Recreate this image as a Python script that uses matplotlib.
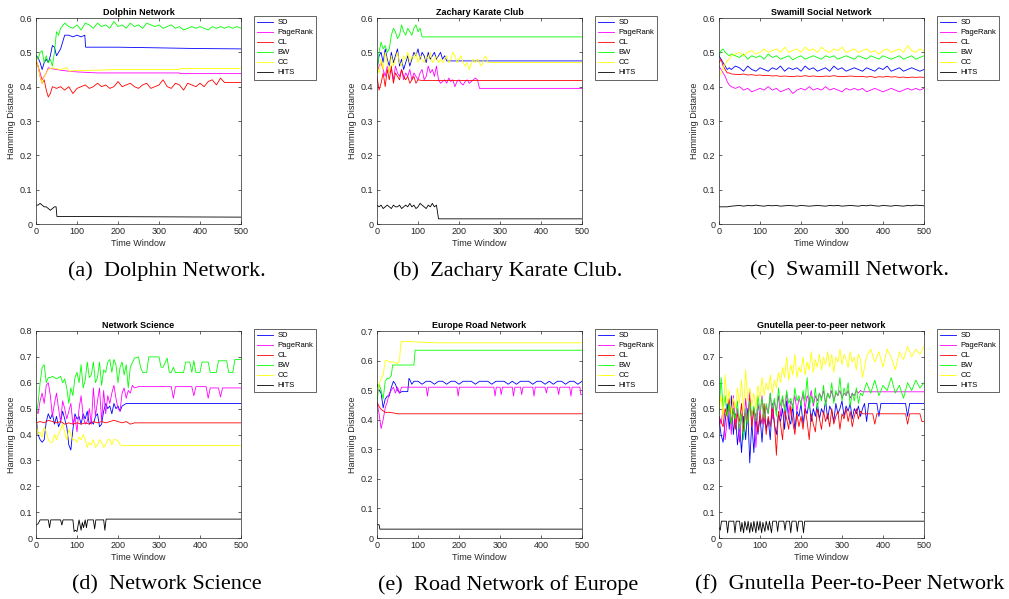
import numpy as np
from matplotlib import pyplot as plt
from matplotlib.ticker import FormatStrFormatter

plt.rcParams['font.family'] = ['Liberation Sans', 'DejaVu Sans']

###############series names / colours###################
names = ['SD', 'PageRank', 'CL', 'BW', 'CC', 'HITS']
colors = ['#0000ff', '#ff00ff', '#ff0000', '#00ff00', '#ffff00', '#000000']

###############(a) Dolphin Network###################
a_sd_x = [0, 5, 10, 15, 20, 25, 30, 35, 40, 45, 50, 55, 60, 65, 70, 80, 90, 100, 110, 119, 121, 200, 300, 400, 500]
a_sd_y = [0.49, 0.485, 0.47, 0.45, 0.47, 0.48, 0.47, 0.49, 0.52, 0.515, 0.49, 0.50, 0.51, 0.53, 0.55, 0.55, 0.545,
          0.55, 0.545, 0.55, 0.515, 0.515, 0.513, 0.511, 0.51]
a_pr_x = [0, 5, 10, 15, 20, 25, 30, 40, 50, 60, 80, 100, 150, 200, 350, 351, 500]
a_pr_y = [0.47, 0.46, 0.44, 0.42, 0.43, 0.44, 0.455, 0.452, 0.45, 0.448, 0.445, 0.443, 0.44, 0.44, 0.44, 0.438, 0.438]
a_cl_x = [0, 5, 10, 15, 20, 25, 30, 35, 40] + list(range(50, 451, 10)) + [460, 500]
a_cl_y = [0.48, 0.46, 0.43, 0.41, 0.42, 0.39, 0.37, 0.38, 0.40,
          0.395, 0.40, 0.39, 0.40, 0.38, 0.395, 0.40, 0.405, 0.395, 0.40,
          0.41, 0.40, 0.405, 0.395, 0.40, 0.415, 0.40, 0.405, 0.41, 0.40,
          0.395, 0.405, 0.41, 0.395, 0.40, 0.405, 0.42, 0.40, 0.395, 0.41,
          0.405, 0.39, 0.41, 0.405, 0.40, 0.41, 0.40, 0.415, 0.42, 0.405,
          0.425, 0.412, 0.412]
a_bw_x = [0, 5, 10, 15, 20, 25, 30, 35, 40, 45, 50, 55, 60] + list(range(70, 501, 10))
a_bw_y = [0.49, 0.48, 0.50, 0.505, 0.47, 0.49, 0.47, 0.48, 0.46, 0.50, 0.56, 0.55, 0.57,
          0.585, 0.575, 0.57, 0.58, 0.565, 0.585, 0.58, 0.57, 0.585, 0.575,
          0.58, 0.57, 0.59, 0.575, 0.58, 0.57, 0.585, 0.575, 0.58, 0.57,
          0.585, 0.58, 0.575, 0.58, 0.57, 0.575, 0.58, 0.57, 0.575, 0.565,
          0.57, 0.575, 0.57, 0.575, 0.57, 0.565, 0.575, 0.57, 0.575, 0.57,
          0.575, 0.57, 0.575, 0.57]
a_cc_x = [0, 5, 10, 15, 20, 25, 30, 40, 50, 60, 75, 80, 100, 150, 200, 350, 351, 500]
a_cc_y = [0.48, 0.46, 0.43, 0.41, 0.43, 0.44, 0.45, 0.455, 0.452, 0.45, 0.455, 0.445, 0.447, 0.448, 0.45, 0.45, 0.453, 0.453]
a_hits_x = [0, 5, 10, 15, 20, 25, 30, 35, 40, 45, 49, 51, 500]
a_hits_y = [0.055, 0.055, 0.06, 0.055, 0.05, 0.05, 0.045, 0.04, 0.045, 0.05, 0.05, 0.022, 0.02]

###############(b) Zachary Karate Club###################
b_sd_x = list(range(0, 166, 5)) + [170, 500]
b_sd_y = [0.45, 0.49, 0.50, 0.47, 0.51, 0.48, 0.46, 0.50, 0.47, 0.49,
          0.51, 0.46, 0.48, 0.45, 0.47, 0.49, 0.46, 0.48, 0.50, 0.49,
          0.51, 0.48, 0.50, 0.49, 0.47, 0.50, 0.48, 0.49, 0.50, 0.48,
          0.49, 0.50, 0.48, 0.49, 0.475, 0.475]
b_pr_x = list(range(0, 246, 5)) + [250, 500]
b_pr_y = [0.44, 0.46, 0.47, 0.45, 0.43, 0.46, 0.44, 0.45, 0.42, 0.46,
          0.44, 0.43, 0.45, 0.42, 0.44, 0.43, 0.45, 0.42, 0.44, 0.43,
          0.42, 0.44, 0.45, 0.42, 0.43, 0.46, 0.44, 0.45, 0.43, 0.46,
          0.42, 0.41, 0.415, 0.42, 0.41, 0.425, 0.415, 0.42, 0.40, 0.415,
          0.42, 0.41, 0.405, 0.415, 0.42, 0.41, 0.415, 0.42, 0.425, 0.42,
          0.395, 0.395]
b_cl_x = list(range(0, 101, 5)) + [110, 500]
b_cl_y = [0.43, 0.39, 0.41, 0.44, 0.40, 0.45, 0.42, 0.46, 0.41, 0.44,
          0.43, 0.42, 0.45, 0.43, 0.42, 0.43, 0.41, 0.42, 0.43, 0.41,
          0.42, 0.418, 0.418]
b_bw_x = list(range(0, 106, 5)) + [110, 500]
b_bw_y = [0.44, 0.50, 0.53, 0.51, 0.52, 0.50, 0.51, 0.55, 0.57, 0.56,
          0.54, 0.55, 0.58, 0.56, 0.55, 0.57, 0.56, 0.55, 0.57, 0.58,
          0.56, 0.57, 0.545, 0.545]
b_cc_x = list(range(0, 266, 5)) + [270, 500]
b_cc_y = [0.46, 0.44, 0.48, 0.45, 0.50, 0.47, 0.44, 0.49, 0.46, 0.48,
          0.50, 0.47, 0.46, 0.49, 0.48, 0.50, 0.47, 0.49, 0.48, 0.50,
          0.47, 0.49, 0.48, 0.47, 0.49, 0.48, 0.50, 0.47, 0.48, 0.49,
          0.47, 0.48, 0.47, 0.48, 0.49, 0.47, 0.48, 0.50, 0.49, 0.47,
          0.48, 0.49, 0.47, 0.46, 0.47, 0.45, 0.47, 0.48, 0.47, 0.48,
          0.47, 0.46, 0.48, 0.49, 0.47, 0.47]
b_hits_x = list(range(0, 146, 5)) + [150, 500]
b_hits_y = [0.055, 0.05, 0.055, 0.045, 0.05, 0.055, 0.05, 0.045, 0.055, 0.05,
            0.05, 0.055, 0.045, 0.05, 0.055, 0.05, 0.06, 0.05, 0.055, 0.045,
            0.05, 0.06, 0.055, 0.05, 0.045, 0.055, 0.05, 0.06, 0.05, 0.055,
            0.015, 0.015]

###############(c) Swamill Social Network###################
c_x = [0, 5, 10, 15, 20, 25, 30] + list(range(40, 501, 10))
c_sd_y = [0.49, 0.48, 0.47, 0.46, 0.45, 0.455, 0.45,
          0.46, 0.455, 0.445, 0.46, 0.45, 0.445, 0.455, 0.45, 0.445, 0.455,
          0.45, 0.46, 0.445, 0.455, 0.45, 0.455, 0.445, 0.46, 0.45, 0.455,
          0.445, 0.45, 0.455, 0.445, 0.46, 0.45, 0.455, 0.445, 0.45, 0.455,
          0.45, 0.445, 0.455, 0.45, 0.445, 0.455, 0.45, 0.46, 0.445, 0.45,
          0.455, 0.445, 0.45, 0.455, 0.45, 0.445, 0.45]
c_pr_y = [0.46, 0.45, 0.44, 0.43, 0.415, 0.405, 0.40,
          0.395, 0.40, 0.39, 0.395, 0.385, 0.39, 0.395, 0.39, 0.40, 0.39,
          0.395, 0.385, 0.39, 0.395, 0.38, 0.39, 0.395, 0.39, 0.40, 0.39,
          0.395, 0.39, 0.40, 0.39, 0.395, 0.39, 0.385, 0.395, 0.39, 0.395,
          0.39, 0.395, 0.385, 0.39, 0.395, 0.39, 0.385, 0.39, 0.395, 0.39,
          0.385, 0.39, 0.395, 0.39, 0.395, 0.39, 0.395]
c_cl_y = [0.47, 0.48, 0.46, 0.45, 0.44, 0.44, 0.437,
          0.436, 0.435, 0.437, 0.434, 0.435, 0.433, 0.434, 0.432, 0.433, 0.431,
          0.432, 0.43, 0.431, 0.43, 0.429, 0.431, 0.43, 0.432, 0.43, 0.431,
          0.43, 0.429, 0.431, 0.43, 0.432, 0.43, 0.429, 0.43, 0.431, 0.43,
          0.429, 0.43, 0.428, 0.43, 0.427, 0.429, 0.428, 0.43, 0.428, 0.429,
          0.427, 0.428, 0.426, 0.428, 0.427, 0.428, 0.427]
c_bw_y = [0.49, 0.505, 0.51, 0.50, 0.495, 0.49, 0.495,
          0.49, 0.485, 0.495, 0.48, 0.49, 0.485, 0.49, 0.48, 0.495, 0.485,
          0.49, 0.48, 0.485, 0.49, 0.478, 0.485, 0.49, 0.48, 0.485, 0.49,
          0.485, 0.48, 0.49, 0.485, 0.49, 0.48, 0.485, 0.49, 0.485, 0.48,
          0.49, 0.485, 0.48, 0.49, 0.485, 0.48, 0.49, 0.485, 0.48, 0.485,
          0.49, 0.48, 0.485, 0.49, 0.48, 0.485, 0.49]
c_cc_y = [0.43, 0.44, 0.455, 0.465, 0.475, 0.48, 0.49,
          0.495, 0.50, 0.49, 0.50, 0.505, 0.495, 0.50, 0.51, 0.50, 0.505,
          0.51, 0.50, 0.515, 0.50, 0.505, 0.51, 0.50, 0.515, 0.505, 0.51,
          0.50, 0.515, 0.505, 0.50, 0.51, 0.505, 0.515, 0.50, 0.505, 0.51,
          0.50, 0.505, 0.51, 0.50, 0.505, 0.495, 0.505, 0.51, 0.50, 0.505,
          0.51, 0.50, 0.52, 0.505, 0.50, 0.51, 0.505]
c_hits_y = [0.05, 0.05, 0.05, 0.05, 0.05, 0.051, 0.052,
            0.053, 0.054, 0.052, 0.054, 0.053, 0.055, 0.053, 0.052, 0.054, 0.053,
            0.054, 0.052, 0.053, 0.054, 0.053, 0.052, 0.054, 0.053, 0.052, 0.053,
            0.054, 0.053, 0.052, 0.054, 0.053, 0.054, 0.052, 0.053, 0.054, 0.053,
            0.052, 0.054, 0.053, 0.055, 0.053, 0.052, 0.054, 0.053, 0.052, 0.054,
            0.053, 0.052, 0.054, 0.053, 0.055, 0.054, 0.053]

###############(d) Network Science###################
d_sd_x = list(range(0, 211, 5)) + [220, 500]
d_sd_y = [0.47, 0.40, 0.38, 0.37, 0.38, 0.45, 0.48, 0.46, 0.48, 0.44,
          0.47, 0.43, 0.45, 0.49, 0.46, 0.43, 0.36, 0.34, 0.42, 0.48,
          0.46, 0.47, 0.44, 0.48, 0.46, 0.49, 0.44, 0.45, 0.44, 0.47,
          0.48, 0.43, 0.44, 0.49, 0.52, 0.50, 0.51, 0.48, 0.52, 0.50,
          0.51, 0.49, 0.51, 0.52, 0.52]
d_pr_x = list(range(0, 241, 5)) + [250, 330, 335, 340, 380, 385, 390, 415, 420, 425, 445, 450, 455, 500]
d_pr_y = [0.50, 0.48, 0.53, 0.56, 0.52, 0.59, 0.60, 0.55, 0.47, 0.52,
          0.56, 0.50, 0.45, 0.53, 0.50, 0.46, 0.49, 0.52, 0.44, 0.47,
          0.41, 0.50, 0.55, 0.47, 0.44, 0.45, 0.50, 0.44, 0.58, 0.47,
          0.53, 0.58, 0.45, 0.57, 0.48, 0.55, 0.52, 0.56, 0.59, 0.54,
          0.50, 0.49, 0.56, 0.58, 0.54, 0.57, 0.56, 0.59, 0.58,
          0.585, 0.585, 0.54, 0.585, 0.585, 0.55, 0.585, 0.585, 0.54, 0.58, 0.58, 0.545, 0.58, 0.58]
d_cl_x = list(range(0, 241, 10)) + [500]
d_cl_y = [0.445, 0.45, 0.445, 0.455, 0.45, 0.445, 0.45, 0.44, 0.445, 0.44,
          0.445, 0.44, 0.445, 0.44, 0.45, 0.445, 0.45, 0.445, 0.45, 0.455,
          0.45, 0.445, 0.45, 0.44, 0.445, 0.445]
d_bw_x = list(range(0, 231, 5)) + [240, 250, 255, 260, 270, 275, 300, 305, 310, 320, 325, 330, 335, 340,
                                   360, 365, 375, 380, 385, 390, 400, 405, 420, 425, 440, 445, 465, 470,
                                   480, 485, 500]
d_bw_y = [0.47, 0.52, 0.60, 0.66, 0.67, 0.60, 0.62, 0.62, 0.625, 0.62,
          0.615, 0.62, 0.625, 0.60, 0.615, 0.58, 0.52, 0.58, 0.55, 0.62,
          0.64, 0.60, 0.67, 0.58, 0.61, 0.68, 0.62, 0.63, 0.68, 0.60,
          0.62, 0.68, 0.59, 0.65, 0.64, 0.68, 0.69, 0.64, 0.69, 0.67,
          0.60, 0.66, 0.68, 0.63, 0.67, 0.58, 0.66,
          0.695, 0.70, 0.66, 0.64, 0.64, 0.70, 0.70, 0.66, 0.66, 0.695, 0.64, 0.64, 0.66, 0.64,
          0.64, 0.68, 0.68, 0.64, 0.685, 0.64, 0.64, 0.68, 0.68, 0.64, 0.64, 0.685, 0.685, 0.64,
          0.64, 0.69, 0.69]
d_cc_x = list(range(0, 211, 5)) + [220, 500]
d_cc_y = [0.45, 0.40, 0.41, 0.39, 0.43, 0.41, 0.38, 0.37, 0.37, 0.40,
          0.38, 0.40, 0.42, 0.44, 0.41, 0.38, 0.42, 0.40, 0.38, 0.38,
          0.37, 0.39, 0.38, 0.40, 0.38, 0.35, 0.37, 0.36, 0.38, 0.35,
          0.36, 0.38, 0.37, 0.35, 0.36, 0.38, 0.38, 0.36, 0.38, 0.38,
          0.375, 0.36, 0.357, 0.357, 0.357]
d_hits_x = [0, 5, 10, 30, 33, 36, 40, 60, 63, 66, 70, 90, 93, 96, 100, 105, 110, 113, 116, 120,
            123, 126, 130, 140, 143, 146, 150, 165, 168, 171, 175, 500]
d_hits_y = [0.05, 0.055, 0.07, 0.07, 0.04, 0.07, 0.07, 0.07, 0.05, 0.07,
            0.07, 0.07, 0.025, 0.03, 0.025, 0.07, 0.03, 0.06, 0.04, 0.07,
            0.04, 0.07, 0.07, 0.07, 0.035, 0.07, 0.07, 0.07, 0.03, 0.073, 0.073, 0.073]

###############(e) Europe Road Network###################
e_sd_x = [0, 5, 10, 15, 20, 25, 30, 35, 40, 45, 50, 55, 60, 65, 70, 75, 78, 80, 85, 90] + list(range(100, 501, 10))
e_sd_y = [0.52, 0.50, 0.49, 0.44, 0.47, 0.48, 0.48, 0.51, 0.53, 0.52,
          0.50, 0.49, 0.495, 0.495, 0.495, 0.495, 0.54, 0.535, 0.52, 0.53,
          0.53, 0.52, 0.53, 0.53, 0.52, 0.53, 0.53, 0.52, 0.53, 0.53,
          0.52, 0.53, 0.53, 0.53, 0.52, 0.53, 0.53, 0.53, 0.52, 0.53,
          0.53, 0.53, 0.52, 0.53, 0.52, 0.53, 0.53, 0.53, 0.52, 0.53,
          0.53, 0.52, 0.53, 0.52, 0.53, 0.53, 0.52, 0.53, 0.53, 0.52,
          0.53]
e_pr_x = [0, 5, 10, 15, 20, 25, 30, 35, 40, 45, 50, 55, 60,
          120, 123, 126, 195, 198, 201, 285, 288, 291, 300, 303, 306, 330, 333, 336,
          350, 353, 356, 380, 383, 386, 410, 413, 416, 440, 443, 446, 470, 473, 476, 495, 497, 500]
e_pr_y = [0.46, 0.42, 0.37, 0.40, 0.44, 0.46, 0.49, 0.50, 0.51, 0.49, 0.51, 0.49, 0.51,
          0.51, 0.48, 0.51, 0.51, 0.48, 0.51, 0.51, 0.48, 0.51, 0.51, 0.485, 0.51, 0.51, 0.48, 0.51,
          0.51, 0.485, 0.51, 0.51, 0.48, 0.51, 0.51, 0.49, 0.51, 0.51, 0.485, 0.51, 0.51, 0.48, 0.51,
          0.51, 0.485, 0.485]
e_cl_x = [0, 5, 10, 15, 20, 30, 40, 50, 500]
e_cl_y = [0.46, 0.445, 0.435, 0.43, 0.425, 0.425, 0.423, 0.42, 0.42]
e_bw_x = [0, 5, 10, 15, 20, 25, 30, 35, 38, 90, 93, 500]
e_bw_y = [0.46, 0.52, 0.50, 0.47, 0.53, 0.54, 0.54, 0.55, 0.585, 0.585, 0.635, 0.635]
e_cc_x = [0, 5, 10, 15, 20, 25, 30, 40, 50, 55, 58, 60, 150, 500]
e_cc_y = [0.48, 0.52, 0.54, 0.55, 0.60, 0.60, 0.595, 0.595, 0.59, 0.60, 0.66, 0.665, 0.66, 0.66]
e_hits_x = [0, 5, 7, 500]
e_hits_y = [0.045, 0.045, 0.03, 0.03]

###############(f) Gnutella peer-to-peer network###################
f_x5 = list(range(0, 351, 5))
f_sd_x = f_x5 + [355, 360, 365, 385, 390, 395, 455, 460, 465, 500]
f_sd_y = [0.46, 0.40, 0.37, 0.45, 0.52, 0.42, 0.55, 0.40, 0.48, 0.36,
          0.44, 0.33, 0.47, 0.38, 0.50, 0.29, 0.45, 0.33, 0.48, 0.40,
          0.47, 0.37, 0.50, 0.42, 0.46, 0.38, 0.52, 0.44, 0.40, 0.48,
          0.45, 0.50, 0.42, 0.53, 0.46, 0.44, 0.51, 0.42, 0.49, 0.47,
          0.52, 0.44, 0.50, 0.48, 0.53, 0.45, 0.50, 0.47, 0.52, 0.46,
          0.50, 0.48, 0.53, 0.46, 0.51, 0.49, 0.45, 0.52, 0.48, 0.50,
          0.53, 0.47, 0.51, 0.49, 0.52, 0.46, 0.50, 0.48, 0.51, 0.47, 0.50,
          0.52, 0.45, 0.52, 0.52, 0.47, 0.52, 0.52, 0.47, 0.52, 0.52]
f_pr_x = f_x5 + [500]
f_pr_y = [0.47, 0.44, 0.50, 0.38, 0.46, 0.52, 0.40, 0.55, 0.44, 0.50,
          0.37, 0.48, 0.42, 0.54, 0.45, 0.57, 0.43, 0.50, 0.35, 0.52,
          0.47, 0.55, 0.44, 0.51, 0.48, 0.56, 0.46, 0.53, 0.49, 0.55,
          0.47, 0.54, 0.50, 0.56, 0.48, 0.53, 0.51, 0.55, 0.49, 0.54,
          0.52, 0.56, 0.50, 0.55, 0.53, 0.57, 0.51, 0.55, 0.53, 0.56,
          0.54, 0.57, 0.52, 0.56, 0.54, 0.57, 0.53, 0.56, 0.55, 0.57,
          0.54, 0.56, 0.55, 0.57, 0.54, 0.56, 0.55, 0.57, 0.56, 0.57, 0.565,
          0.565]
f_cl_x = f_x5 + [375, 380, 385, 455, 460, 465, 490, 495, 500]
f_cl_y = [0.47, 0.45, 0.43, 0.50, 0.47, 0.54, 0.44, 0.50, 0.42, 0.48,
          0.45, 0.52, 0.41, 0.49, 0.44, 0.54, 0.43, 0.50, 0.46, 0.41,
          0.48, 0.44, 0.52, 0.40, 0.47, 0.43, 0.51, 0.45, 0.32, 0.49,
          0.44, 0.38, 0.50, 0.46, 0.42, 0.51, 0.45, 0.40, 0.48, 0.43,
          0.47, 0.42, 0.50, 0.45, 0.38, 0.48, 0.44, 0.41, 0.50, 0.46,
          0.42, 0.49, 0.45, 0.48, 0.43, 0.50, 0.44, 0.47, 0.49, 0.42,
          0.48, 0.46, 0.50, 0.45, 0.49, 0.43, 0.47, 0.50, 0.46, 0.49, 0.48,
          0.48, 0.44, 0.48, 0.48, 0.44, 0.48, 0.48, 0.45, 0.45]
f_bw_x = f_x5 + list(range(360, 501, 10))
f_bw_y = [0.48, 0.62, 0.50, 0.55, 0.47, 0.52, 0.44, 0.50, 0.46, 0.53,
          0.42, 0.48, 0.38, 0.50, 0.44, 0.53, 0.47, 0.51, 0.45, 0.55,
          0.49, 0.54, 0.46, 0.52, 0.48, 0.56, 0.50, 0.54, 0.47, 0.58,
          0.51, 0.55, 0.49, 0.57, 0.52, 0.54, 0.50, 0.58, 0.53, 0.55,
          0.51, 0.57, 0.53, 0.62, 0.50, 0.55, 0.52, 0.58, 0.50, 0.56,
          0.53, 0.59, 0.51, 0.56, 0.54, 0.60, 0.52, 0.57, 0.55, 0.62,
          0.53, 0.58, 0.55, 0.60, 0.51, 0.56, 0.53, 0.58, 0.52, 0.56, 0.55,
          0.60, 0.56, 0.61, 0.55, 0.59, 0.57, 0.62, 0.56, 0.59, 0.54, 0.60, 0.57, 0.61, 0.58, 0.60]
f_cc_x = f_x5 + list(range(360, 501, 10))
f_cc_y = [0.50, 0.55, 0.46, 0.63, 0.52, 0.57, 0.48, 0.54, 0.50, 0.58,
          0.52, 0.61, 0.49, 0.65, 0.53, 0.58, 0.51, 0.56, 0.50, 0.59,
          0.54, 0.62, 0.55, 0.60, 0.57, 0.63, 0.56, 0.61, 0.58, 0.64,
          0.60, 0.66, 0.62, 0.70, 0.61, 0.67, 0.63, 0.71, 0.62, 0.66,
          0.64, 0.70, 0.63, 0.68, 0.65, 0.72, 0.64, 0.69, 0.66, 0.71,
          0.65, 0.70, 0.67, 0.72, 0.66, 0.71, 0.64, 0.70, 0.68, 0.73,
          0.67, 0.71, 0.69, 0.66, 0.72, 0.68, 0.70, 0.65, 0.71, 0.69, 0.62,
          0.70, 0.73, 0.68, 0.72, 0.66, 0.73, 0.70, 0.65, 0.72, 0.69, 0.74, 0.70, 0.73, 0.71, 0.74]
f_hits_x = [0, 3, 6, 18, 21, 24, 36, 39, 42, 50, 53, 56, 60, 63, 68, 71, 75, 78, 82, 85,
            90, 93, 97, 100, 104, 107, 112, 115, 120, 123, 128, 131, 140, 143, 146, 158, 161, 164,
            172, 175, 178, 188, 191, 194, 203, 206, 209, 500]
f_hits_y = [0.04, 0.03, 0.065, 0.065, 0.02, 0.065, 0.065, 0.02, 0.065, 0.065, 0.025, 0.06, 0.02, 0.065,
            0.03, 0.065, 0.02, 0.06, 0.025, 0.065, 0.02, 0.065, 0.03, 0.065, 0.02, 0.06, 0.025, 0.065,
            0.03, 0.065, 0.02, 0.065, 0.065, 0.025, 0.065, 0.065, 0.03, 0.065, 0.065, 0.02, 0.065,
            0.065, 0.025, 0.065, 0.065, 0.02, 0.065, 0.065]

###############panels###################
panels = [
    ('Dolphin Network', '(a)  Dolphin Network.', 0.6,
     [(a_sd_x, a_sd_y), (a_pr_x, a_pr_y), (a_cl_x, a_cl_y), (a_bw_x, a_bw_y), (a_cc_x, a_cc_y), (a_hits_x, a_hits_y)]),
    ('Zachary Karate Club', '(b)  Zachary Karate Club.', 0.6,
     [(b_sd_x, b_sd_y), (b_pr_x, b_pr_y), (b_cl_x, b_cl_y), (b_bw_x, b_bw_y), (b_cc_x, b_cc_y), (b_hits_x, b_hits_y)]),
    ('Swamill Social Network', '(c)  Swamill Network.', 0.6,
     [(c_x, c_sd_y), (c_x, c_pr_y), (c_x, c_cl_y), (c_x, c_bw_y), (c_x, c_cc_y), (c_x, c_hits_y)]),
    ('Network Science', '(d)  Network Science', 0.8,
     [(d_sd_x, d_sd_y), (d_pr_x, d_pr_y), (d_cl_x, d_cl_y), (d_bw_x, d_bw_y), (d_cc_x, d_cc_y), (d_hits_x, d_hits_y)]),
    ('Europe Road Network', '(e)  Road Network of Europe', 0.7,
     [(e_sd_x, e_sd_y), (e_pr_x, e_pr_y), (e_cl_x, e_cl_y), (e_bw_x, e_bw_y), (e_cc_x, e_cc_y), (e_hits_x, e_hits_y)]),
    ('Gnutella peer-to-peer network', '(f)  Gnutella Peer-to-Peer Network', 0.8,
     [(f_sd_x, f_sd_y), (f_pr_x, f_pr_y), (f_cl_x, f_cl_y), (f_bw_x, f_bw_y), (f_cc_x, f_cc_y), (f_hits_x, f_hits_y)]),
]

W, H = 1009, 599
fig = plt.figure(figsize=(W / 100, H / 100), dpi=100)
lefts = [36, 377, 719]
rows = [(18, 224), (331, 538)]
caption_x = [167, 508, 850]
caption_y = [271, 585]
axcol = '#262626'

for i, (title, caption, ymax, series) in enumerate(panels):
    r, c = divmod(i, 3)
    top, bot = rows[r]
    ax = fig.add_axes([lefts[c] / W, 1 - bot / H, 205 / W, (bot - top) / H])
    for (x, y), name, col in zip(series, names, colors):
        ax.plot(x, y, color=col, lw=0.6, label=name)
    ax.set_xlim(0, 500)
    ax.set_ylim(0, ymax)
    ax.set_xticks(np.arange(0, 501, 100))
    ax.set_yticks(np.arange(0, ymax + 0.01, 0.1))
    ax.yaxis.set_major_formatter(FormatStrFormatter('%g'))
    ax.tick_params(direction='in', length=2.5, width=0.5, labelsize=6.5, colors=axcol, pad=2.5,
                   top=True, right=True)
    for s in ax.spines.values():
        s.set_linewidth(0.5)
        s.set_color(axcol)
    ax.set_title(title, fontsize=6.5, fontweight='bold', pad=2)
    ax.set_xlabel('Time Window', fontsize=6.5, color=axcol, labelpad=2)
    ax.set_ylabel('Hamming Distance', fontsize=6.5, color=axcol, labelpad=3)
    leg = ax.legend(loc='upper left', bbox_to_anchor=(1.065, 1.01), fontsize=5.5, frameon=True,
                    fancybox=False, edgecolor=axcol, framealpha=1, handlelength=2.0,
                    handletextpad=0.6, borderpad=0.4, labelspacing=0.35, borderaxespad=0)
    leg.get_frame().set_linewidth(0.5)
    fig.text(caption_x[c] / W, 1 - caption_y[r] / H, caption, ha='center', va='center',
             fontsize=16, family='Liberation Serif')

fig.savefig('out.png', dpi=100)
